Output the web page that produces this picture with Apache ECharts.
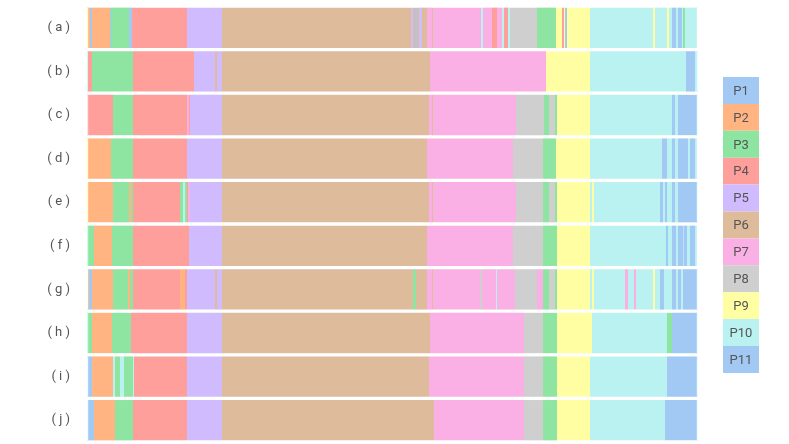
<!DOCTYPE html>
<html>
<head>
<meta charset="utf-8">
<script src="https://cdn.jsdelivr.net/npm/echarts@6/dist/echarts.min.js"></script>
<style>
  html, body { margin: 0; padding: 0; background: #fff; }
  #main { width: 789px; height: 444px; }
</style>
</head>
<body>
<div id="main"></div>
<script>
// rows of the segmentation plot, top to bottom
var rowNames = ['a', 'b', 'c', 'd', 'e', 'f', 'g', 'h', 'i', 'j'];
var classNames = ['P1', 'P2', 'P3', 'P4', 'P5', 'P6', 'P7', 'P8', 'P9', 'P10', 'P11'];
var classColors = ['#a1c9f4', '#ffb482', '#8de5a1', '#ff9f9b', '#d0bbff', '#debb9b',
	'#fab0e4', '#cfcfcf', '#fffea3', '#b9f2f0', '#a1c9f4'];
var totalFrames = 611;

// each run: [class number, last frame of the run]
var rowA = [[2, 3], [1, 5], [2, 23], [1, 24], [3, 42], [1, 45], [4, 100], [5, 135], [6, 324], [5, 326],
	[6, 328], [1, 330], [6, 332], [5, 335], [6, 340], [7, 345], [6, 346], [7, 394], [10, 396], [7, 405],
	[4, 410], [7, 415], [10, 417], [4, 421], [10, 423], [8, 450], [3, 469], [9, 475], [4, 477], [9, 478],
	[1, 480], [9, 503], [10, 566], [9, 568], [10, 580], [9, 582], [10, 585], [1, 589], [10, 591], [1, 595],
	[10, 596], [3, 598], [10, 611]];
var rowB = [[3, 1], [4, 5], [3, 46], [4, 107], [5, 128], [6, 130], [5, 135], [6, 343], [7, 346], [7, 459],
	[9, 503], [10, 599], [11, 608], [10, 610], [11, 611]];
var rowC = [[4, 26], [3, 46], [4, 100], [7, 102], [4, 103], [5, 135], [6, 342], [7, 345], [6, 346], [7, 429],
	[8, 457], [3, 462], [8, 468], [3, 470], [9, 503], [10, 585], [11, 588], [10, 591], [11, 611]];
var rowD = [[2, 24], [3, 46], [4, 100], [5, 135], [6, 340], [7, 426], [8, 456], [3, 469], [9, 503], [10, 575],
	[11, 580], [10, 585], [11, 588], [10, 591], [11, 601], [10, 603], [11, 608], [10, 611]];
var rowE = [[2, 26], [3, 42], [2, 44], [3, 46], [4, 93], [3, 96], [10, 98], [3, 100], [4, 101], [7, 103],
	[5, 135], [6, 342], [7, 345], [6, 346], [7, 429], [8, 456], [3, 462], [8, 468], [3, 470], [9, 503],
	[10, 505], [9, 507], [10, 573], [11, 576], [10, 578], [11, 580], [10, 585], [11, 588], [10, 591], [11, 611]];
var rowF = [[3, 7], [2, 25], [3, 46], [4, 102], [5, 135], [6, 340], [7, 426], [8, 456], [3, 470], [9, 503],
	[10, 579], [11, 581], [10, 585], [11, 589], [10, 591], [11, 596], [10, 596.5], [11, 600], [10, 603],
	[11, 608], [10, 611]];
var rowG = [[6, 2], [1, 5], [2, 26], [3, 41], [2, 43], [3, 46], [4, 93], [2, 98], [4, 100], [5, 128],
	[6, 130], [5, 135], [6, 326], [3, 329], [6, 340], [7, 345], [6, 346], [7, 393], [8, 395], [7, 409],
	[10, 410], [7, 428], [8, 450], [7, 456], [3, 462], [8, 468], [3, 470], [9, 503], [10, 505], [9, 507],
	[10, 538], [7, 541], [10, 547], [7, 549], [10, 566], [9, 568], [10, 573], [11, 577], [10, 585], [11, 589],
	[10, 591], [11, 594], [10, 596], [11, 611]];
var rowH = [[3, 5], [2, 25], [3, 44], [4, 100], [5, 135], [6, 343], [7, 437], [8, 456], [3, 470], [9, 505],
	[10, 580], [3, 585], [11, 611]];
var rowI = [[1, 5], [2, 26], [10, 28], [3, 33], [10, 37], [3, 46], [10, 47], [4, 100], [5, 135], [6, 342],
	[7, 437], [8, 456], [3, 470], [9, 503], [10, 580], [11, 611]];
var rowJ = [[1, 7], [2, 28], [3, 46], [4, 100], [5, 135], [6, 347], [7, 437], [8, 456], [3, 470], [9, 503],
	[10, 578], [11, 611]];

var rows = [rowA, rowB, rowC, rowD, rowE, rowF, rowG, rowH, rowI, rowJ];

var segments = [];
for (var r = 0; r < rows.length; r++) {
	var start = 0;
	for (var k = 0; k < rows[r].length; k++) {
		var run = rows[r][k];
		segments.push([r, start, run[1], run[0] - 1]);
		start = run[1];
	}
}

var chart = echarts.init(document.getElementById('main'), null, { renderer: 'canvas' });

function renderSegment(params, api) {
	var row = api.value(0);
	var s = api.value(1);
	var e = api.value(2);
	var c = api.value(3);
	var p0 = api.coord([s, row]);
	var p1 = api.coord([e, row]);
	var h = api.size([0, 1])[1] * 0.925;
	var color = classColors[c];
	var children = [{
		type: 'rect',
		shape: { x: p0[0], y: p0[1] - h / 2, width: p1[0] - p0[0], height: h },
		style: { fill: color }
	}];
	// darker edge at both ends of each row
	if (s === 0) {
		children.push({
			type: 'rect',
			shape: { x: p0[0], y: p0[1] - h / 2, width: 1.2, height: h },
			style: { fill: echarts.color.lift(color, -0.45) }
		});
	}
	if (e === totalFrames) {
		children.push({
			type: 'rect',
			shape: { x: p1[0] - 1.2, y: p0[1] - h / 2, width: 1.2, height: h },
			style: { fill: echarts.color.lift(color, -0.45) }
		});
	}
	return { type: 'group', children: children };
}

// legend strip on the right
var legendItems = [];
var legTop = 77, legH = 26.9, legX = 723, legW = 36;
for (var i = 0; i < classNames.length; i++) {
	legendItems.push({
		type: 'rect',
		shape: { x: legX, y: legTop + i * legH, width: legW, height: legH },
		style: { fill: classColors[i] }
	});
	legendItems.push({
		type: 'text',
		x: legX + legW / 2,
		y: legTop + i * legH + legH / 2 + 1,
		style: {
			text: classNames[i],
			fill: '#555555',
			font: '13px Roboto',
			align: 'center',
			verticalAlign: 'middle'
		}
	});
}

var option = {
	animation: false,
	backgroundColor: '#ffffff',
	grid: {
		left: 87,
		right: 91,
		top: 6,
		bottom: 2
	},
	xAxis: {
		type: 'value',
		min: 0,
		max: totalFrames,
		show: false
	},
	yAxis: {
		type: 'category',
		data: rowNames,
		inverse: true,
		axisLine: { show: false },
		axisTick: { show: false },
		splitLine: { show: false },
		axisLabel: {
			margin: 17,
			color: '#555555',
			fontFamily: 'Roboto',
			fontSize: 13,
			formatter: function (v) { return '( ' + v + ' )'; }
		}
	},
	series: [{
		type: 'custom',
		renderItem: renderSegment,
		encode: { x: [1, 2], y: 0 },
		data: segments
	}],
	graphic: legendItems
};

chart.setOption(option);
</script>
</body>
</html>
